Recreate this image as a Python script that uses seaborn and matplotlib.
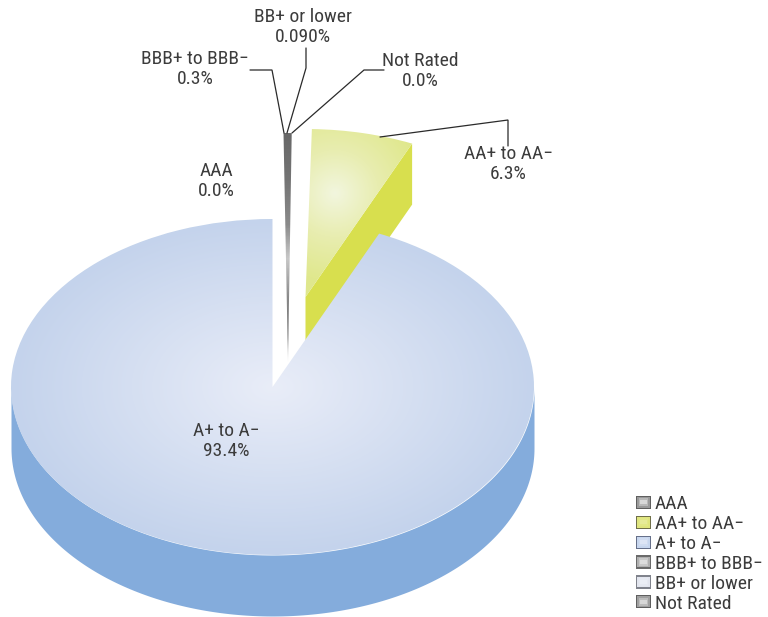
import numpy as np
import matplotlib
matplotlib.use("Agg")
import matplotlib.pyplot as plt
import seaborn as sns
from matplotlib import font_manager as fm
from matplotlib.colors import LinearSegmentedColormap as LSC
from matplotlib.legend_handler import HandlerPatch
from matplotlib.patches import Patch, Rectangle
from matplotlib.transforms import Affine2D

categories = ["AAA", "AA+ to AA−", "A+ to A−", "BBB+ to BBB−", "BB+ or lower", "Not Rated"]
values = [0.0, 6.3, 93.4, 0.3, 0.09, 0.0]
value_labels = ["0.0%", "6.3%", "93.4%", "0.3%", "0.090%", "0.0%"]

sns.set_theme(style="white")
names = {f.name for f in fm.fontManager.ttflist}
fam = [n for n in ["Liberation Sans Narrow", "Roboto Condensed", "Roboto"] if n in names]
plt.rcParams["font.family"] = fam + ["DejaVu Sans"]

W, H = 768, 617
CX, CY, RX, RY, DEPTH = 272.5, 387.0, 261.5, 168.0, 61.0
TXT = "#3c3c3c"

fig = plt.figure(figsize=(W / 100, H / 100), dpi=100, facecolor="white")
ax = fig.add_axes([0, 0, 1, 1])
wedges, _ = ax.pie(values, startangle=88.6, counterclock=False, radius=1, center=(0, 0),
                   wedgeprops=dict(linewidth=0))
for w in wedges:
    w.set_facecolor("none")
ax.set_aspect("auto")
ax.set_xlim((0 - CX) / RX, (W - CX) / RX)
ax.set_ylim((CY - H) / RY, (CY - 0) / RY)
ax.axis("off")
pix = Affine2D().scale(1, -1).translate(0, H)


def ux(px):
    return (px - CX) / RX


def uy(py):
    return (CY - py) / RY


d = DEPTH / RY
extent = (ux(0), ux(W), uy(H), uy(0))
gx, gy = np.meshgrid(np.linspace(ux(0), ux(W), 768), np.linspace(uy(H), uy(0), 617))
px_x, px_y = gx * RX + CX, CY - gy * RY

# ---- A+ to A- : side wall and top
main = wedges[2]
t = np.radians(np.linspace(180, 360, 200))
ax.fill_between(np.cos(t), np.sin(t), np.sin(t) - d, color="#84acdc", lw=0, zorder=2)
cm_main = LSC.from_list("m", ["#e9edf8", "#c4d3ec"])
im = ax.imshow(np.clip(np.hypot(gx, gy), 0, 1), extent=extent, origin="lower", aspect="auto",
               cmap=cm_main, vmin=0, vmax=1, zorder=3)
im.set_clip_path(main)

# ---- AA+ to AA- : exploded
aa = wedges[1]
aa.set_center((ux(305.5), uy(297)))
ac = np.array(aa.center)
ang = np.radians(aa.theta1)
rim = ac + [np.cos(ang), np.sin(ang)]
ax.fill([ac[0], rim[0], rim[0], ac[0]], [ac[1], rim[1], rim[1] - d, ac[1] - d],
        color="#d8df4e", lw=0, zorder=1)
cm_aa = LSC.from_list("a", ["#f2f6de", "#e8edb0", "#e0e88e", "#e0e88e"])
im2 = ax.imshow(np.clip(np.hypot(px_x - 335, px_y - 193) / 130, 0, 1), extent=extent, origin="lower",
                aspect="auto", cmap=cm_aa, vmin=0, vmax=1, zorder=1.5)
im2.set_clip_path(aa)

# ---- BBB+ to BBB- and BB+ or lower : exploded sliver with its wall
apex_x, apex_y, tip_x = ux(283.5), uy(301), ux(288)
rim_t = np.radians(np.linspace(88.2, 90, 6))
sx = np.r_[apex_x + np.cos(rim_t), tip_x]
sy = np.r_[apex_y + np.sin(rim_t), apex_y - d]
poly = ax.fill(sx, sy, facecolor="none", lw=0, zorder=4)[0]
cm_s = LSC.from_list("s", [(0, "#686868"), (0.2, "#747474"), (0.4, "#8a8a8a"), (0.55, "#c8c8c8"),
                           (0.72, "#8a8a8a"), (0.9, "#707070"), (1, "#d5d5d5")])
im3 = ax.imshow(np.clip((px_y - 133) / (361 - 133), 0, 1), extent=extent, origin="lower", aspect="auto",
                cmap=cm_s, vmin=0, vmax=1, zorder=4)
im3.set_clip_path(poly)

ax.set_xlim((0 - CX) / RX, (W - CX) / RX)
ax.set_ylim((CY - H) / RY, (CY - 0) / RY)

# ---- labels
label_pos = {"AAA": (216, 170.5), "AA+ to AA−": (508, 154), "A+ to A−": (226, 431),
             "BBB+ to BBB−": (195, 59), "BB+ or lower": (303, 17), "Not Rated": (420, 61)}
FS = 14.0
for c, v in zip(categories, value_labels):
    x, y = label_pos[c]
    ax.text(x, y, c, transform=pix, ha="center", va="center", fontsize=FS, color=TXT, zorder=6)
    ax.text(x, y + 20, v, transform=pix, ha="center", va="center", fontsize=FS, color=TXT, zorder=6)

leaders = [([250, 272, 284], [70, 70, 133]),
           ([306, 306, 287], [48, 68, 133]),
           ([384, 364, 292], [70, 70, 133]),
           ([508, 508, 380], [146, 120, 137])]
for lx, ly in leaders:
    ax.plot(lx, ly, transform=pix, color="#2a2a2a", lw=0.9, solid_joinstyle="miter", zorder=5)


# ---- legend
class Swatch(HandlerPatch):
    def create_artists(self, legend, orig, xd, yd, width, height, fontsize, trans):
        cols = orig.get_gid().split(",")
        arts = []
        for col, inset in zip(cols, [0, 0.8, 2.0, 3.2]):
            arts.append(Rectangle((-xd + inset, -yd + inset), width - 2 * inset, height - 2 * inset,
                                  facecolor=col, edgecolor="none", transform=trans))
        return arts


swatch_cols = ["#5f5f5f,#9a9a9a,#b8b8b8,#d8d8d8", "#70704a,#dfe57e,#e2e886,#e6eb98",
               "#66708a,#c7d6ee,#d0dcf1,#dde5f5", "#6a6a6a,#b0b0b0,#c8c8c8,#dcdcdc",
               "#80838c,#e2e5ee,#e6e9f1,#ebeef5", "#5f5f5f,#a0a0a0,#bcbcbc,#d8d8d8"]
handles = [Patch(gid=s, label=c) for s, c in zip(swatch_cols, categories)]
ax.legend(handles=handles, loc="upper left", bbox_to_anchor=(636 / W, 1 - 495 / H),
          bbox_transform=fig.transFigure, frameon=False, fontsize=FS, labelcolor=TXT,
          handler_map={Patch: Swatch()}, handlelength=0.77, handleheight=0.66, handletextpad=0.2,
          labelspacing=0.1, borderpad=0, borderaxespad=0)

fig.savefig("out.png", dpi=100, facecolor="white")
